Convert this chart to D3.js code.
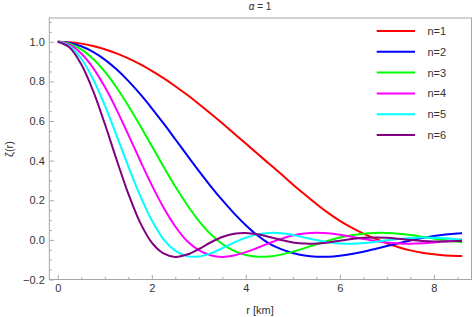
<!DOCTYPE html>
<html><head><meta charset="utf-8">
<script src="https://cdn.jsdelivr.net/npm/d3@7"></script>
<style>
body{margin:0;background:#fff}
svg{display:block}
text{font-family:"Liberation Sans",Arial,sans-serif}
</style>
</head><body>
<svg id="chart" width="474" height="317"></svg>
<script>
// ---- data ----
const rValues = [0,0.25,0.5,0.75,1,1.25,1.5,1.75,2,2.25,2.5,2.75,3,3.25,3.5,3.75,4,4.25,4.5,4.75,5,5.25,5.5,5.75,6,6.25,6.5,6.75,7,7.25,7.5,7.75,8,8.25,8.5,8.6];
const zetaN1 = [1,0.9977,0.9907,0.9789,0.9626,0.9417,0.9164,0.8868,0.8533,0.8162,0.7756,0.7322,0.6860,0.6380,0.5884,0.5374,0.4859,0.4343,0.3833,0.3320,0.2800,0.2300,0.1810,0.1360,0.0960,0.0620,0.0320,0.0060,-0.0170,-0.0370,-0.0530,-0.0650,-0.0730,-0.0785,-0.0810,-0.0812];
const zetaN2 = [1,0.9943,0.9773,0.9490,0.9100,0.8608,0.8026,0.7366,0.6643,0.5876,0.5080,0.4276,0.3483,0.2718,0.2002,0.1340,0.0740,0.0220,-0.0190,-0.0470,-0.0665,-0.0790,-0.0850,-0.0850,-0.0800,-0.0712,-0.0595,-0.0458,-0.0313,-0.0167,-0.0030,0.0093,0.0195,0.0272,0.0325,0.0338];
const zetaN3 = [1,0.9904,0.9615,0.9138,0.8490,0.7692,0.6774,0.5775,0.4737,0.3695,0.2690,0.1775,0.0963,0.0294,-0.0208,-0.0558,-0.0762,-0.0849,-0.0840,-0.0744,-0.0594,-0.0414,-0.0223,-0.0041,0.0117,0.0237,0.0315,0.0353,0.0346,0.0306,0.0241,0.0158,0.0069,-0.0017,-0.0090,-0.0115];
const zetaN4 = [1,0.9852,0.9408,0.8686,0.7724,0.6577,0.5316,0.4019,0.2763,0.1632,0.0677,-0.0058,-0.0522,-0.0778,-0.0859,-0.0789,-0.0620,-0.0397,-0.0161,0.0052,0.0219,0.0318,0.0354,0.0330,0.0257,0.0157,0.0046,-0.0055,-0.0134,-0.0182,-0.0194,-0.0175,-0.0130,-0.0071,-0.0006,0.0018];
const zetaN5 = [1,0.9784,0.9142,0.8117,0.6789,0.5276,0.3716,0.2246,0.0987,0.0029,-0.0546,-0.0820,-0.0842,-0.0683,-0.0424,-0.0139,0.0108,0.0277,0.0351,0.0333,0.0246,0.0121,-0.0010,-0.0116,-0.0180,-0.0193,-0.0161,-0.0098,-0.0021,0.0050,0.0101,0.0122,0.0113,0.0080,0.0031,0.0011];
const zetaN6 = [1,0.9712,0.8861,0.7528,0.5861,0.4058,0.2338,0.0881,-0.0138,-0.0686,-0.0861,-0.0741,-0.0460,-0.0132,0.0145,0.0311,0.0352,0.0283,0.0147,-0.0005,-0.0127,-0.0188,-0.0184,-0.0127,-0.0041,0.0043,0.0103,0.0123,0.0104,0.0056,-0.0003,-0.0053,-0.0081,-0.0082,-0.0057,-0.0043];
const seriesNames = ["n=1","n=2","n=3","n=4","n=5","n=6"];
const seriesColors = ["#ff0000","#0000ff","#00ff00","#ff00ff","#00ffff","#800080"];
const xMajorTicks = [0,2,4,6,8];
const xMinorTicks = [0.5,1,1.5,2.5,3,3.5,4.5,5,5.5,6.5,7,7.5,8.5];
const yMajorTicks = [-0.2,0,0.2,0.4,0.6,0.8,1.0];
const yTickLabels = ["\u22120.2","0.0","0.2","0.4","0.6","0.8","1.0"];
const yMinorTicks = [-0.15,-0.1,-0.05,0.05,0.1,0.15,0.25,0.3,0.35,0.45,0.5,0.55,0.65,0.7,0.75,0.85,0.9,0.95,1.05,1.1];
const titleText = "\u03b1 = 1";
const xLabel = "r [km]";
const yLabel = "\u03b6(r)";

const seriesValues = [zetaN1,zetaN2,zetaN3,zetaN4,zetaN5,zetaN6];

// ---- layout ----
const L = 49.3, R = 471.5, T = 18, B = 279.5;
const x = d3.scaleLinear().domain([-0.18, 8.8]).range([L, R]);
const y = d3.scaleLinear().domain([-0.2, 1.12]).range([B, T]);
const frameColor = "#a6a6a6";
const textColor = "#333";

const svg = d3.select("#chart");

svg.append("defs").append("clipPath").attr("id","clip")
  .append("rect").attr("x",L).attr("y",T).attr("width",R-L).attr("height",B-T);

// axes (ticks pointing inward)
function styleAxis(g){
  g.select(".domain").remove();
  g.selectAll(".tick line").attr("stroke",frameColor);
  g.selectAll(".tick text").attr("fill",textColor).attr("font-size","11px")
   .attr("font-family",'"Liberation Sans",Arial,sans-serif');
}
svg.append("g").attr("transform",`translate(0,${B})`)
  .call(d3.axisBottom(x).tickValues(xMajorTicks).tickSize(-4.5).tickPadding(5).tickFormat(d3.format("d")))
  .call(styleAxis);
svg.append("g").attr("transform",`translate(0,${B})`)
  .call(d3.axisBottom(x).tickValues(xMinorTicks).tickSize(-2.5).tickFormat(""))
  .call(styleAxis);
svg.append("g").attr("transform",`translate(${L},0)`)
  .call(d3.axisLeft(y).tickValues(yMajorTicks).tickSize(-4.5).tickPadding(4.5)
     .tickFormat((d,i)=>yTickLabels[i]))
  .call(styleAxis);
svg.append("g").attr("transform",`translate(${L},0)`)
  .call(d3.axisLeft(y).tickValues(yMinorTicks).tickSize(-2.5).tickFormat(""))
  .call(styleAxis);

// frame
svg.append("rect").attr("x",L).attr("y",T).attr("width",R-L).attr("height",B-T)
  .attr("fill","none").attr("stroke",frameColor).attr("stroke-width",1);

// lines
const line = d3.line().x((d,i)=>x(rValues[i])).y(d=>y(d)).curve(d3.curveCatmullRom.alpha(0.5));
const plot = svg.append("g").attr("clip-path","url(#clip)");
seriesValues.forEach((vals,k)=>{
  plot.append("path").attr("d",line(vals)).attr("fill","none")
    .attr("stroke",seriesColors[k]).attr("stroke-width",2);
});

// legend
const legendY0 = 31, legendDY = 20.8;
const leg = svg.append("g");
seriesNames.forEach((name,k)=>{
  const yy = legendY0 + k*legendDY;
  leg.append("line").attr("x1",376.7).attr("x2",415).attr("y1",yy).attr("y2",yy)
    .attr("stroke",seriesColors[k]).attr("stroke-width",2);
  leg.append("text").attr("x",427.5).attr("y",yy+4).attr("font-size","11px")
    .attr("fill",textColor).text(name);
});

// title and axis labels
svg.append("text").attr("x",260).attr("y",9.5).attr("text-anchor","middle")
  .attr("font-size","10px").attr("fill",textColor)
  .html('<tspan font-style="italic">\u03b1</tspan> = 1');
svg.append("text").attr("x",260).attr("y",314).attr("text-anchor","middle")
  .attr("font-size","11px").attr("fill",textColor).text(xLabel);
svg.append("text").attr("transform","translate(13,149) rotate(-90)").attr("text-anchor","middle")
  .attr("font-size","11px").attr("fill",textColor).text(yLabel);
</script>
</body></html>
